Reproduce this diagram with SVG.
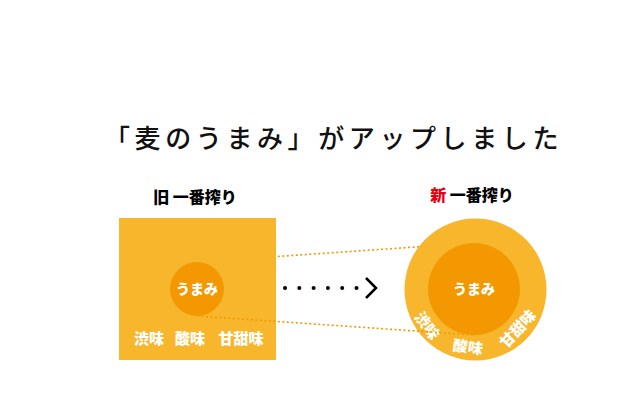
<svg xmlns="http://www.w3.org/2000/svg" width="633" height="415" viewBox="0 0 633 415">
<style>
.jp{font-family:"Noto Sans CJK JP","Noto Sans",sans-serif}
.title{font-size:26px;font-weight:500;fill:#111;letter-spacing:4.6px}
.head{font-size:16px;font-weight:900;fill:#000}
.lbl{font-size:15px;font-weight:900;fill:#fff;text-anchor:middle;dominant-baseline:central}
.dot{stroke:#F39800;stroke-width:1.6;stroke-dasharray:2 2.5;fill:none}
.outer{fill:#F8B62D}
.inner{fill:#F39800}
</style>
<rect width="633" height="415" fill="#fff"/>
<text class="jp title" x="104" y="148">「麦のうまみ」がアップしました</text>
<g id="connectors-back">
<line class="dot" x1="197" y1="262" x2="474" y2="243"/>
</g>
<g id="old">
<text class="jp head" x="195" y="203" text-anchor="middle">旧 一番搾り</text>
<rect class="outer" x="119" y="218" width="157" height="142"/>
<circle class="inner" cx="197" cy="289" r="27"/>
<text class="jp lbl" x="197" y="288" style="font-size:14px">うまみ</text>
<text class="jp lbl" x="149" y="337">渋味</text>
<text class="jp lbl" x="190" y="337">酸味</text>
<text class="jp lbl" x="241" y="337">甘甜味</text>
</g>
<g id="new">
<text class="jp head" x="472" y="201" text-anchor="middle"><tspan fill="#E60012">新</tspan> 一番搾り</text>
<circle class="outer" cx="475.5" cy="289.5" r="71"/>
<circle class="inner" cx="474" cy="289" r="46"/>
<text class="jp lbl" x="474" y="288" style="font-size:14px">うまみ</text>
<text class="jp lbl" transform="translate(428 325) rotate(53)">渋味</text>
<text class="jp lbl" transform="translate(468 346) rotate(7)">酸味</text>
<text class="jp lbl" transform="translate(517 328) rotate(-47)">甘甜味</text>
</g>
<g id="connectors">
<line class="dot" x1="197" y1="316" x2="474" y2="335"/>
<g fill="#000">
<circle cx="285" cy="288" r="2"/>
<circle cx="299.3" cy="288" r="2"/>
<circle cx="313.6" cy="288" r="2"/>
<circle cx="327.9" cy="288" r="2"/>
<circle cx="342.2" cy="288" r="2"/>
<circle cx="356.5" cy="288" r="2"/>
</g>
<polyline points="366,278 376,288 366,298" fill="none" stroke="#000" stroke-width="2.5"/>
</g>
</svg>
